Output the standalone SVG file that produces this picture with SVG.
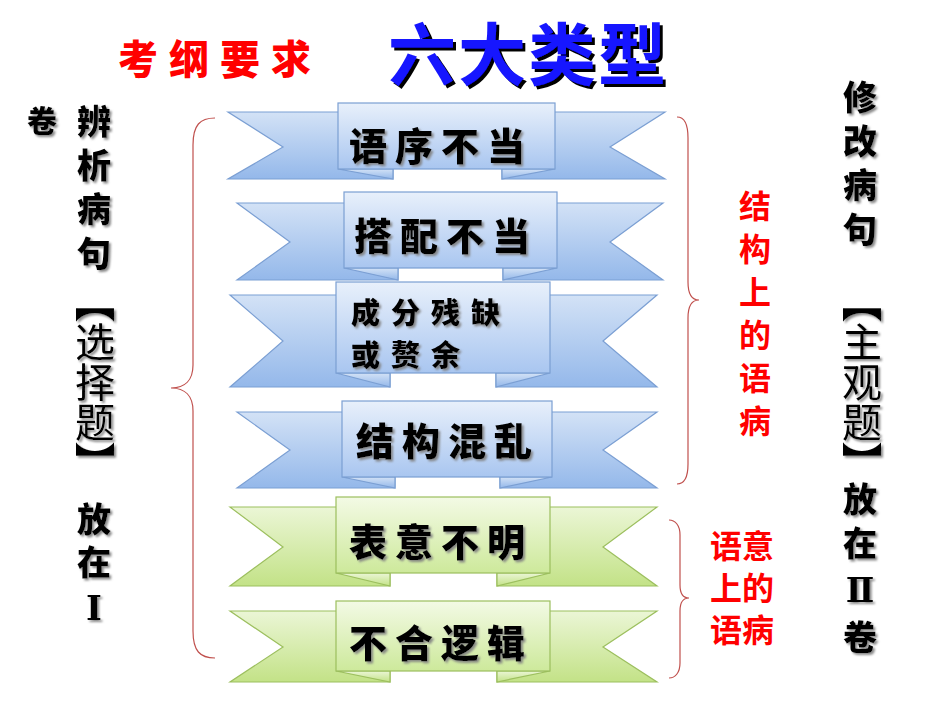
<svg xmlns="http://www.w3.org/2000/svg" width="950" height="713" viewBox="0 0 950 713">
<defs>
<linearGradient id="bw" x1="0" y1="0" x2="0" y2="1"><stop offset="0" stop-color="#d3e2f6"/><stop offset="1" stop-color="#94b8ea"/></linearGradient>
<linearGradient id="bb" x1="0" y1="0" x2="0" y2="1"><stop offset="0" stop-color="#e8f0fb"/><stop offset="1" stop-color="#a9c6f0"/></linearGradient>
<linearGradient id="gw" x1="0" y1="0" x2="0" y2="1"><stop offset="0" stop-color="#ebf6d6"/><stop offset="1" stop-color="#c3e287"/></linearGradient>
<linearGradient id="gb" x1="0" y1="0" x2="0" y2="1"><stop offset="0" stop-color="#f3fae5"/><stop offset="1" stop-color="#cde99b"/></linearGradient>
<filter id="sh" x="-10%" y="-10%" width="130%" height="130%"><feDropShadow dx="2" dy="2" stdDeviation="1" flood-color="#7f7f7f" flood-opacity="0.9"/></filter>
<filter id="tsh" x="-10%" y="-10%" width="130%" height="130%"><feDropShadow dx="3" dy="3" stdDeviation="0.6" flood-color="#000" flood-opacity="1"/></filter>
</defs>
<style>
.bl{stroke:#7b9fd3;stroke-width:1.2}
.gr{stroke:#9cbf5e;stroke-width:1.2}
.bw{fill:url(#bw)} .bb{fill:url(#bb)} .gw{fill:url(#gw)} .gb{fill:url(#gb)}
.rt{font-family:"Noto Sans CJK SC","Noto Sans CJK JP",sans-serif;font-weight:900;fill:#000;filter:url(#sh)}
.vt{font-family:"Noto Sans CJK SC","Noto Sans CJK JP",sans-serif;font-weight:900;fill:#000;writing-mode:vertical-rl;filter:url(#sh)}
.vr{font-family:"Noto Sans CJK SC","Noto Sans CJK JP",sans-serif;font-weight:400;fill:#000;writing-mode:vertical-rl;filter:url(#sh)}
.red{font-family:"Noto Sans CJK SC","Noto Sans CJK JP",sans-serif;font-weight:700;fill:#ff0000}
.brace{fill:none;stroke:#c0504d;stroke-width:1.2}
.rn{font-family:"DejaVu Serif","Liberation Serif",serif;font-weight:700}
.bk{font-weight:900}
</style>

<g id="title">
<text x="118" y="74" class="red" style="font-weight:900" font-size="40" letter-spacing="11">考纲要求</text>
<text x="388" y="80" font-family="Noto Sans CJK SC, sans-serif" font-weight="700" font-size="68" fill="#1414ff" filter="url(#tsh)" letter-spacing="2">六大类型</text>
</g>

<g id="left-labels">
<text x="42" y="106" class="vt" font-size="30">卷</text>
<text x="94" y="104" class="vt" font-size="34" letter-spacing="10">辨析病句</text>
<text x="95" y="282" class="vr" font-size="40"><tspan class="bk">【</tspan>选择题<tspan class="bk">】</tspan></text>
<text x="94" y="502" class="vt" font-size="34" letter-spacing="9">放在<tspan class="rn">Ⅰ</tspan></text>
</g>

<g id="right-labels">
<text x="860" y="80" class="vt" font-size="34" letter-spacing="10">修改病句</text>
<text x="862" y="282" class="vr" font-size="40"><tspan class="bk">【</tspan>主观题<tspan class="bk">】</tspan></text>
<text x="860" y="482" class="vt" font-size="34" letter-spacing="10">放在<tspan class="rn">Ⅱ</tspan>卷</text>
<text x="755" y="190" class="red" font-size="32" letter-spacing="11" style="writing-mode:vertical-rl">结构上的语病</text>
<text class="red" font-size="32" x="742" y="558" text-anchor="middle">语意</text>
<text class="red" font-size="32" x="742" y="600" text-anchor="middle">上的</text>
<text class="red" font-size="32" x="742" y="642" text-anchor="middle">语病</text>
</g>

<g id="connectors">
<path class="brace" d="M215,118 C200,118 193,125 193,145 L193,365 C193,380 185,388 171,388 C185,388 193,396 193,411 L193,631 C193,651 200,658 215,658"/>
<path class="brace" d="M677,117 C684,117 688,123 688,138 L688,282 C688,294 692,300 699,300 C692,300 688,306 688,318 L688,464 C688,478 684,484 677,484"/>
<path class="brace" d="M669,520 C675,520 680,525 680,535 L680,585 C680,593 683,598 689,598 C683,598 680,603 680,611 L680,663 C680,673 675,678 669,678"/>
</g>

<g id="ribbon-1">
<path class="bl bw" d="M228,112 L393,112 L393,179 L228,179 L283,147 Z"/>
<path class="bl bw" d="M665,112 L502,112 L502,179 L665,179 L610,147 Z"/>
<path class="bl bw" d="M338,169 L393,169 L393,179 Z"/>
<path class="bl bw" d="M555,169 L502,169 L502,179 Z"/>
<rect class="bl bb" x="338" y="103" width="217" height="66"/>
<text class="rt" x="441" y="160" font-size="38" letter-spacing="8" text-anchor="middle">语序不当</text>
</g>

<g id="ribbon-2">
<path class="bl bw" d="M237,203 L398,203 L398,280 L237,280 L290,242 Z"/>
<path class="bl bw" d="M663,203 L503,203 L503,280 L663,280 L610,242 Z"/>
<path class="bl bw" d="M344,268 L398,268 L398,280 Z"/>
<path class="bl bw" d="M557,268 L503,268 L503,280 Z"/>
<rect class="bl bb" x="344" y="192" width="213" height="76"/>
<text class="rt" x="446" y="250" font-size="38" letter-spacing="8" text-anchor="middle">搭配不当</text>
</g>

<g id="ribbon-3">
<path class="bl bw" d="M230,295 L390,295 L390,387 L230,387 L283,341 Z"/>
<path class="bl bw" d="M657,295 L496,295 L496,387 L657,387 L603,341 Z"/>
<path class="bl bw" d="M336,373 L390,373 L390,387 Z"/>
<path class="bl bw" d="M550,373 L496,373 L496,387 Z"/>
<rect class="bl bb" x="336" y="282" width="214" height="91"/>
<text class="rt" x="351" y="324" font-size="29" letter-spacing="11">成分残缺</text>
<text class="rt" x="351" y="366" font-size="29" letter-spacing="11">或赘余</text>
</g>

<g id="ribbon-4">
<path class="bl bw" d="M237,412 L395,412 L395,488 L237,488 L290,450 Z"/>
<path class="bl bw" d="M657,412 L500,412 L500,488 L657,488 L603,450 Z"/>
<path class="bl bw" d="M342,477 L395,477 L395,488 Z"/>
<path class="bl bw" d="M552,477 L500,477 L500,488 Z"/>
<rect class="bl bb" x="342" y="401" width="210" height="76"/>
<text class="rt" x="448" y="455" font-size="38" letter-spacing="8" text-anchor="middle">结构混乱</text>
</g>

<g id="ribbon-5">
<path class="gr gw" d="M230,507 L390,507 L390,586 L230,586 L283,547 Z"/>
<path class="gr gw" d="M657,507 L497,507 L497,586 L657,586 L603,547 Z"/>
<path class="gr gw" d="M336,573 L390,573 L390,586 Z"/>
<path class="gr gw" d="M550,573 L497,573 L497,586 Z"/>
<rect class="gr gb" x="336" y="497" width="214" height="76"/>
<text class="rt" x="441" y="556" font-size="38" letter-spacing="8" text-anchor="middle">表意不明</text>
</g>

<g id="ribbon-6">
<path class="gr gw" d="M230,611 L390,611 L390,682 L230,682 L283,647 Z"/>
<path class="gr gw" d="M657,611 L497,611 L497,682 L657,682 L603,647 Z"/>
<path class="gr gw" d="M336,671 L390,671 L390,682 Z"/>
<path class="gr gw" d="M550,671 L497,671 L497,682 Z"/>
<rect class="gr gb" x="336" y="601" width="214" height="70"/>
<text class="rt" x="441" y="657" font-size="38" letter-spacing="8" text-anchor="middle">不合逻辑</text>
</g>
</svg>
